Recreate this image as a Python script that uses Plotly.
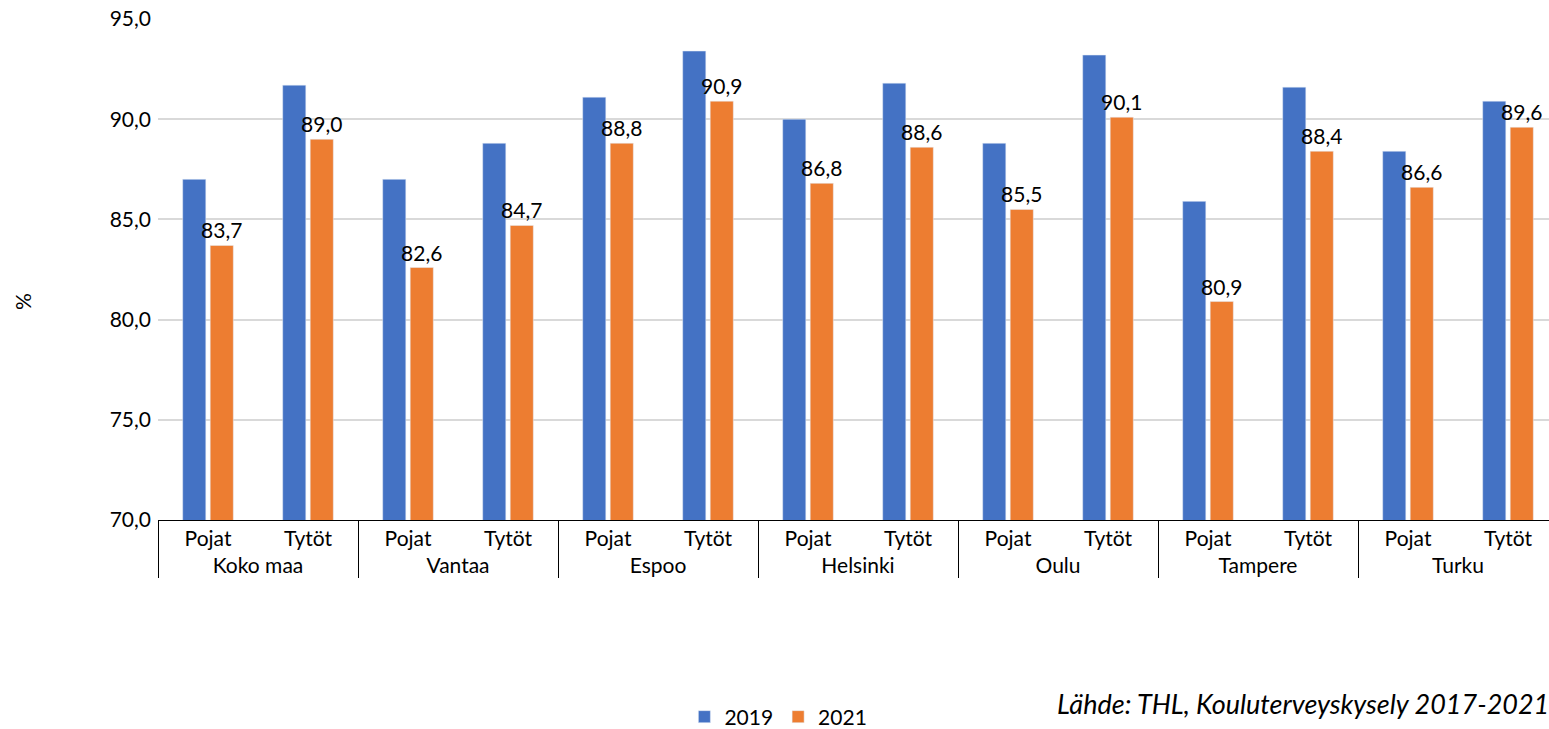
import plotly.graph_objects as go

cities = ["Koko maa", "Vantaa", "Espoo", "Helsinki", "Oulu", "Tampere", "Turku"]
genders = ["Pojat", "Tytöt"]
values_2019 = [87.0, 91.7, 87.0, 88.8, 91.1, 93.4, 90.0, 91.8, 88.8, 93.2, 85.9, 91.6, 88.4, 90.9]
values_2021 = [83.7, 89.0, 82.6, 84.7, 88.8, 90.9, 86.8, 88.6, 85.5, 90.1, 80.9, 88.4, 86.6, 89.6]
y_title = "%"
source_text = "Lähde: THL, Kouluterveyskysely 2017-2021"

outer = [c for c in cities for _ in genders]
inner = [g for _ in cities for g in genders]

FONT = "Lato, Arial, sans-serif"

fig = go.Figure()
fig.add_trace(go.Bar(x=[outer, inner], y=values_2019, name="2019",
                     marker_color="#4472C4"))
fig.add_trace(go.Bar(x=[outer, inner], y=values_2021, name="2021",
                     marker_color="#ED7D31",
                     texttemplate="%{y:.1f}", textposition="outside",
                     constraintext="none", cliponaxis=False,
                     textfont=dict(size=21, color="black", family=FONT)))

fig.update_layout(
    width=1549, height=729,
    margin=dict(l=158, r=0, t=19, b=209, autoexpand=False),
    paper_bgcolor="white", plot_bgcolor="white",
    separators=", ",
    barmode="group", bargap=0.45, bargroupgap=0.16,
    font=dict(family=FONT, size=21, color="black"),
    showlegend=True,
    legend=dict(orientation="h", x=0.446, xanchor="center", y=(520 - 717) / 501, yanchor="middle",
                font=dict(size=21, family=FONT, color="black"),
                itemwidth=30, tracegroupgap=0),
    annotations=[
        dict(text=source_text, xref="paper", yref="paper",
             x=(1055 - 158) / 1391, y=(520 - 703) / 501,
             xanchor="left", yanchor="middle", showarrow=False,
             font=dict(size=27, family=FONT, color="black", style="italic")),
        dict(text=y_title, xref="paper", yref="paper",
             x=(22 - 158) / 1391, y=(520 - 302) / 501, textangle=-90,
             xanchor="center", yanchor="middle", showarrow=False,
             font=dict(size=21, family=FONT, color="black")),
    ],
)
fig.update_xaxes(
    type="multicategory", range=[-0.5, -0.5 + 1391 / 100],
    showline=True, linecolor="black", linewidth=1,
    showdividers=True, dividercolor="black", dividerwidth=1,
    ticks="", showgrid=False,
    tickfont=dict(size=21, family=FONT, color="black"),
)
fig.update_yaxes(
    range=[70, 95], dtick=5, tickformat=".1f",
    showgrid=True, gridcolor="#D9D9D9", gridwidth=2,
    showline=False, zeroline=False, ticks="", ticklabelstandoff=6,
    tickfont=dict(size=21, family=FONT, color="black"),
)

fig.write_html("out.html", config={"displayModeBar": False},
               post_script="document.body.style.margin='0';")
